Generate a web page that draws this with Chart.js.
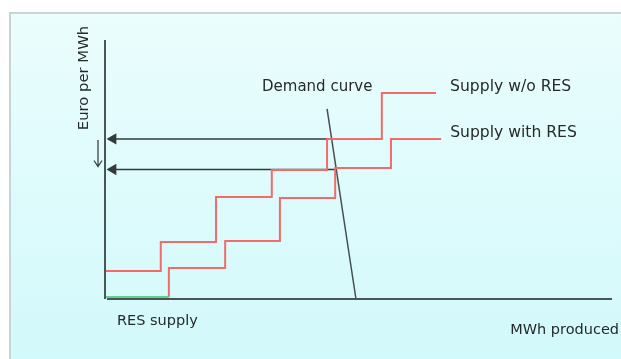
<!DOCTYPE html>
<html>
<head>
<meta charset="utf-8">
<script src="https://cdn.jsdelivr.net/npm/chart.js@4.4.1/dist/chart.umd.min.js"></script>
<style>
    body { margin: 0; background: #ffffff; overflow: hidden; }
    #panel {
        position: absolute;
        left: 9px;
        top: 12px;
        width: 640px;
        height: 360px;
        border-top: 2px solid #c6d4d4;
        border-left: 2px solid #c6d4d4;
        background: linear-gradient(#ebfdfd, #d2f9fb 347px);
    }
    #wrap { position: absolute; left: 0; top: 0; width: 621px; height: 359px; }
</style>
</head>
<body>
<div id="panel"></div>
<div id="wrap"><canvas id="meritChart" width="621" height="359"></canvas></div>
<script>
// Merit order diagram: step supply curves with and without renewables (RES)

// quantity (MWh produced) where each step starts, and its price level (Euro per MWh)
const noResX = [0, 0, 11.0, 21.9, 32.9, 43.8, 54.6, 65.3];
const noResPrice = [0, 10.8, 22.0, 39.4, 49.8, 61.8, 79.5, 79.5];

const withResX = [12.6, 12.6, 23.7, 34.5, 45.4, 56.4, 66.3];
const withResPrice = [0.8, 12.0, 22.4, 39.0, 50.6, 61.8, 61.8];

// renewable supply at (near) zero marginal cost
const resX = [0, 12.6];
const resPrice = [0.8, 0.8];

// demand curve
const demandX = [43.8, 49.5];
const demandPrice = [73.4, 0];

// clearing prices: [without RES, with RES] and where they meet demand
const clearPrice = [61.8, 50.0];
const clearX = [44.6, 45.6];

function toPoints(xs, ys) {
    return xs.map((x, i) => ({ x: x, y: ys[i] }));
}

const AXIS = '#4b5555';
const RED = '#f26a6a';

function priceArrow(i) {
    return {
        data: [{ x: clearX[i], y: clearPrice[i] }, { x: 1.6, y: clearPrice[i] }],
        borderColor: '#333b3b',
        backgroundColor: '#333b3b',
        borderWidth: 1.5,
        pointRadius: [0, 5],
        pointStyle: 'triangle',
        rotation: -90,
        clip: false
    };
}

// text labels and the small "price falls" arrow
const labelPlugin = {
    id: 'labels',
    afterDatasetsDraw(chart) {
        const ctx = chart.ctx;
        const xs = chart.scales.x, ys = chart.scales.y;
        ctx.save();
        ctx.fillStyle = '#262a2a';
        ctx.textBaseline = 'middle';
        ctx.textAlign = 'left';

        ctx.font = '15px "DejaVu Sans"';
        ctx.fillText('Demand curve', 262, 87);
        ctx.font = '15.6px "DejaVu Sans"';
        ctx.fillText('Supply w/o RES', xs.getPixelForValue(noResX[noResX.length - 1]) + 14,
            ys.getPixelForValue(noResPrice[noResPrice.length - 1]) - 6);
        ctx.fillText('Supply with RES', xs.getPixelForValue(withResX[withResX.length - 1]) + 9,
            ys.getPixelForValue(withResPrice[withResPrice.length - 1]) - 6);

        ctx.font = '14.5px "DejaVu Sans"';
        ctx.fillText('RES supply', 117, 321);

        ctx.font = '14.5px "DejaVu Sans"';
        ctx.textAlign = 'right';
        ctx.fillText('MWh produced', 619, 330);

        ctx.font = '14.8px "DejaVu Sans"';
        ctx.textAlign = 'center';
        ctx.translate(84, 78);
        ctx.rotate(-Math.PI / 2);
        ctx.fillText('Euro per MWh', 0, 0);
        ctx.restore();

        // down arrow next to the price axis
        const ax = 98;
        const top = ys.getPixelForValue(clearPrice[0]) + 1;
        const bot = ys.getPixelForValue(clearPrice[1]) - 3;
        ctx.save();
        ctx.strokeStyle = '#3c4444';
        ctx.lineWidth = 1.3;
        ctx.beginPath();
        ctx.moveTo(ax, top);
        ctx.lineTo(ax, bot);
        ctx.moveTo(ax - 4, bot - 6);
        ctx.lineTo(ax, bot);
        ctx.lineTo(ax + 4, bot - 6);
        ctx.stroke();
        ctx.restore();
    }
};

new Chart(document.getElementById('meritChart'), {
    type: 'line',
    data: {
        datasets: [
            {
                label: 'x axis',
                data: [{ x: 0.4, y: 0 }, { x: 100, y: 0 }],
                borderColor: AXIS,
                borderWidth: 2,
                pointRadius: 0,
                clip: false
            },
            {
                label: 'y axis',
                data: [{ x: 0, y: 0 }, { x: 0, y: 100 }],
                borderColor: AXIS,
                borderWidth: 2,
                pointRadius: 0,
                clip: false
            },
            {
                label: 'RES supply',
                data: toPoints(resX, resPrice),
                borderColor: '#5fd08e',
                borderWidth: 2,
                pointRadius: 0,
                clip: false
            },
            {
                label: 'Supply w/o RES',
                data: toPoints(noResX, noResPrice),
                borderColor: RED,
                borderWidth: 2,
                stepped: 'before',
                pointRadius: 0,
                clip: false
            },
            {
                label: 'Supply with RES',
                data: toPoints(withResX, withResPrice),
                borderColor: RED,
                borderWidth: 2,
                stepped: 'before',
                pointRadius: 0,
                clip: false
            },
            priceArrow(0),
            priceArrow(1),
            {
                label: 'Demand curve',
                data: toPoints(demandX, demandPrice),
                borderColor: '#465050',
                borderWidth: 1.5,
                pointRadius: 0,
                clip: false
            }
        ]
    },
    options: {
        responsive: false,
        animation: false,
        layout: { padding: { left: 105, right: 9, top: 40, bottom: 60 } },
        plugins: {
            legend: { display: false },
            tooltip: { enabled: false }
        },
        scales: {
            x: { type: 'linear', min: 0, max: 100, display: false },
            y: { type: 'linear', min: 0, max: 100, display: false }
        }
    },
    plugins: [labelPlugin]
});
</script>
</body>
</html>
